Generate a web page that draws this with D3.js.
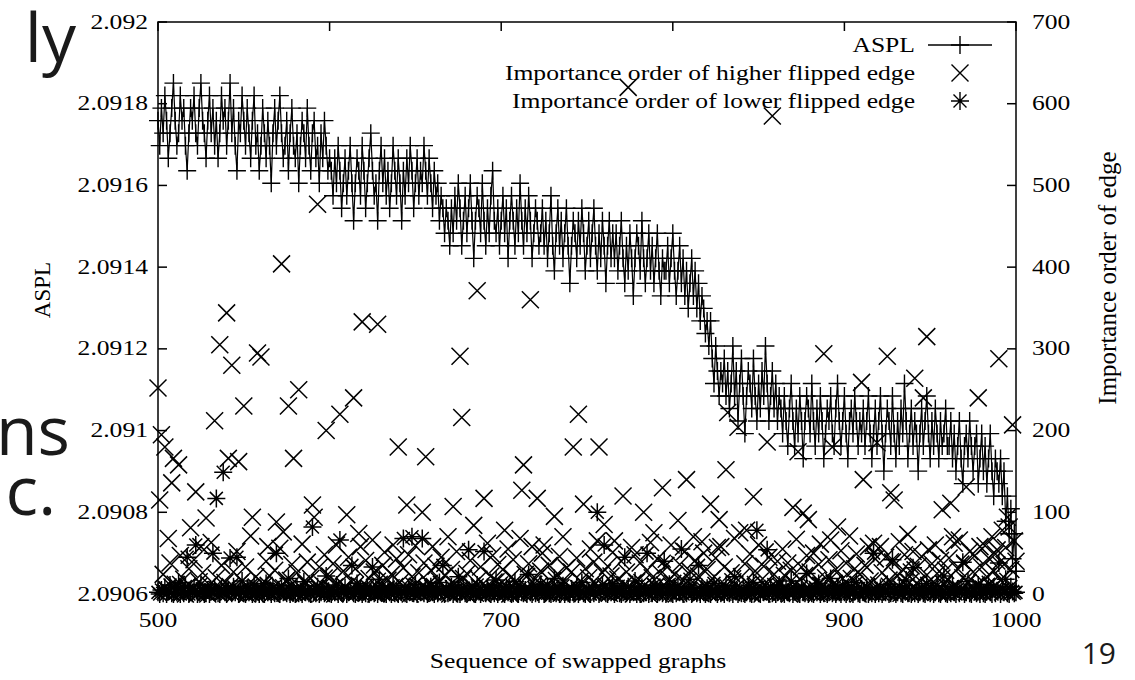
<!DOCTYPE html>
<html>
<head>
<meta charset="utf-8">
<script src="https://cdn.jsdelivr.net/npm/d3@7"></script>
<style>
  html, body { margin: 0; background: #fff; }
  text { font-family: "Liberation Serif", "Times New Roman", serif; font-size: 20px; fill: #000; }
  .slide { font-family: "Open Sans", "Noto Sans", sans-serif; fill: #1a1a1a; }
</style>
</head>
<body>
<div id="chart"></div>
<script>
// sequence numbers start here, one sample per swapped graph
const seqStart = 500;

// ASPL of a 256-node graph is (distance sum) / 32640; values below are
// distance sum minus 68237, read level by level off the plot
const asplSteps = [
  38,36,39,37,40,38,35,37,39,41, 38,36,37,40,38,39,36,34,37,39,
  38,40,37,36,39,41,38,37,35,38, 40,37,39,36,38,35,37,40,38,39,
  36,38,41,37,39,36,34,38,37,40, 38,36,39,
  37,35,38,40,36,37,34,36,39,37, 35,38,36,33,37,39,36,38,40,37,
  35,36,38,34,37,39,36,35,37,33, 36,38,37,35,39,36,34,37,38,35,
  36,33,37,35,38,36,34,35,
  34,32,35,33,36,34,31,33,35,32, 34,36,33,30,33,35,34,32,36,34,
  31,33,35,37,34,32,33,30,34,36, 33,35,32,34,31,33,36,34,32,35,
  33,30,34,32,35,33,36,34,31,33, 35,32,34,
  33,36,34,32,35,33,31,34,32,33, 30,32,31,29,31,30,28,
  31,29,32,30,33,31,28,30,32,29, 31,33,30,27,30,32,31,29,33,30,
  28,31,29,32,34,30,29,31,28,30, 32,29,31,27,30,32,30,28,31,29,
  33,30,28,31,29,32,30,27,29,31, 30,28,
  29,31,28,30,27,29,32,28,26,29, 31,28,30,27,29,31,28,25,28,30,
  29,27,30,28,31,29,26,28,30,27, 29,31,28,26,29,27,30,28,25,28,
  30,27,29,
  27,29,26,28,30,27,25,28,26,29, 27,24,27,29,28,26,30,27,25,27,
  29,26,28,25,27,29,26,24,27,26,
  26,28,25,27,29,26,24,26,28,25, 27,24,26,23,25,27,24,26,23,25,
  22,24,23,21,22,
  20,22,19,17,20,18,16,18,
  17,19,16,18,15,17,20,16,18,14, 17,19,16,13,16,18,17,15,19,16,
  14,17,15,18,16,20,17,14,16,18, 15,17,14,16,
  15,13,16,14,12,15,17,14,12,15, 13,16,14,11,14,16,15,13,17,14,
  12,15,13,16,14,11,13,15,14,16, 13,12,15,17,14,12,14,16,13,11,
  14,15,13,16,14,12,14,
  13,15,12,14,16,13,11,13,15,12, 14,16,13,10,13,15,14,12,16,13,
  11,14,12,15,13,17,14,11,13,15, 12,14,13,10,13,15,12,14,16,13,
  11,14,12,15,13,11,14,12,13,15, 12,
  12,14,11,13,10,12,14,11,9,12, 13,11,14,12,10,12,13,9,11,13,
  10,12,9,11,13,10,8,11,10,
  9,11,8,10,6,8,5,7,3,5,2
];
const asplBase = 68237;
const asplPairs = 32640;

// importance order of the higher flipped edge, 20 samples per row (500, 520, ...)
const higherOrder = [
  252,115,195,24,180,5,68,38,136,166,12,3,158,47,2,18,0,9,31,81,
  7,42,125,1,15,58,26,4,93,0,11,63,3,212,20,6,305,35,2,14,
  344,166,9,280,27,1,52,162,4,16,230,33,0,8,71,94,2,21,295,6,
  290,13,3,40,58,22,0,7,29,88,5,56,404,76,1,17,230,10,36,166,
  4,26,250,8,61,0,14,39,2,19,109,94,7,477,33,1,11,48,200,3,
  22,6,37,0,60,12,220,4,28,9,97,45,1,15,240,31,3,74,58,333,
  8,41,2,19,5,66,27,0,330,12,3,35,51,6,17,1,24,60,9,43,
  180,14,2,32,7,109,48,0,21,10,59,4,26,1,100,38,168,6,13,29,
  58,9,34,1,16,45,3,23,7,70,0,30,107,12,52,4,291,216,19,2,
  25,5,41,10,84,1,371,18,33,0,117,8,62,3,22,47,6,15,36,11,
  3,30,78,9,55,0,21,42,6,14,1,68,127,158,24,8,37,360,58,12,
  19,117,4,28,50,60,2,11,35,7,0,95,23,9,46,1,70,15,32,5,
  8,27,180,3,44,220,16,0,110,31,6,20,55,2,39,13,65,180,4,26,
  85,10,34,1,22,51,65,7,18,3,40,120,12,27,620,5,57,0,48,15,
  2,38,14,100,6,29,0,63,20,75,9,43,1,25,130,11,35,4,18,60,
  13,24,0,90,36,8,17,52,140,3,28,10,70,41,5,22,1,64,50,9,
  30,6,110,19,2,44,57,91,58,11,33,152,222,4,26,15,68,8,204,75,
  21,3,37,78,12,49,1,119,28,7,60,16,0,34,10,186,45,5,585,24,
  9,40,14,2,55,23,6,38,0,29,106,12,67,174,18,33,99,3,47,91,
  27,8,50,15,1,36,61,11,294,20,4,42,66,180,13,30,82,6,53,19,
  2,38,12,71,19,5,31,49,0,24,259,140,35,9,58,16,3,62,43,185,
  11,58,26,3,45,291,17,124,39,115,7,22,64,1,30,48,10,73,14,27,
  52,264,13,34,2,46,240,21,315,54,8,37,15,60,25,4,41,103,12,29,
  18,44,111,70,62,9,31,66,5,20,38,131,14,52,3,27,47,11,240,58,
  33,6,59,21,44,12,70,28,49,54,288,17,78,36,57,94,82,30,207,65,
  40
];

// importance order of the lower flipped edge, same layout
const lowerOrder = [
  2,0,5,1,8,0,3,11,1,0,6,2,14,0,4,1,9,45,0,3,
  1,7,60,0,2,12,4,0,1,5,0,3,50,8,117,1,0,6,149,2,
  0,4,44,1,9,2,45,0,3,16,1,0,7,2,5,0,11,1,3,0,
  6,1,0,13,2,4,0,8,1,50,3,0,10,2,5,1,19,0,4,2,
  0,7,1,3,0,15,2,5,1,0,82,4,1,9,0,2,6,1,22,3,
  1,0,5,2,11,0,66,3,1,8,0,2,4,35,1,0,13,2,6,0,
  3,1,9,0,2,33,1,5,0,18,2,4,1,0,7,2,0,10,1,3,
  0,5,2,68,1,0,8,3,70,1,12,0,4,2,68,1,6,0,3,9,
  2,0,4,1,14,3,35,0,6,1,2,9,0,5,1,21,0,3,7,1,
  0,54,2,6,1,0,11,3,0,4,52,1,8,2,0,5,1,17,0,3,
  4,1,0,9,2,6,0,1,15,3,0,7,2,1,5,0,24,2,0,8,
  1,3,0,12,5,0,2,8,1,0,4,19,1,6,0,2,10,0,3,1,
  0,6,2,1,9,0,3,14,1,0,5,2,0,8,1,3,100,0,4,11,
  60,1,0,5,2,13,0,3,7,1,0,2,45,1,9,0,4,2,16,0,
  3,0,8,1,2,50,0,6,1,11,4,0,2,7,1,40,0,3,12,1,
  0,4,1,9,2,55,0,3,1,6,18,0,2,5,1,35,0,8,2,0,
  7,1,0,4,13,2,0,6,1,3,0,10,2,1,5,0,21,3,0,2,
  1,5,0,2,8,1,0,14,3,78,1,0,6,2,4,54,0,9,1,3,
  0,2,11,1,4,0,7,2,1,16,0,3,5,1,0,9,2,1,25,0,
  4,1,0,8,2,13,0,3,1,6,0,2,19,1,4,0,7,2,0,11,
  2,0,5,1,9,0,3,14,1,0,6,2,1,8,0,3,1,50,0,4,
  1,7,0,3,2,12,0,1,42,5,0,2,9,1,0,4,17,1,3,0,
  32,1,4,0,2,8,1,0,13,3,1,6,0,2,10,1,0,5,22,1,
  0,3,1,9,2,0,6,1,4,39,0,2,15,1,0,7,3,1,11,0,
  5,1,0,3,12,2,0,8,1,4,38,0,6,2,18,1,0,9,3,1,
  2
];

const xTicks = [500, 600, 700, 800, 900, 1000];
const asplTicks = [2.0906, 2.0908, 2.091, 2.0912, 2.0914, 2.0916, 2.0918, 2.092];
const orderTicks = [0, 100, 200, 300, 400, 500, 600, 700];
const legendLabels = ["ASPL", "Importance order of higher flipped edge", "Importance order of lower flipped edge"];

const W = 1135, H = 680;
const plot = { left: 158, right: 1016, top: 22, bottom: 594 };
const SX = 1.28;     // the source picture is stretched sideways
const TICK = 9;

const x = d3.scaleLinear().domain([500, 1000]).range([plot.left, plot.right]);
const yL = d3.scaleLinear().domain([2.0906, 2.092]).range([plot.bottom, plot.top]);
const yR = d3.scaleLinear().domain([0, 700]).range([plot.bottom, plot.top]);

const svg = d3.select("#chart").append("svg")
  .attr("width", W).attr("height", H)
  .style("display", "block");
svg.append("rect").attr("width", W).attr("height", H).attr("fill", "#fff");

function label(g, s, px, py, anchor, rot, sx = SX) {
  return g.append("text")
    .attr("transform", `translate(${px},${py}) scale(${sx},1)` + (rot ? ` rotate(${rot})` : ""))
    .attr("text-anchor", anchor)
    .attr("dominant-baseline", "central")
    .text(s);
}

// marker shapes (gnuplot point types 1, 2, 3)
const plusPath = "M-9,0H9M0,-9V9";
const crossPath = "M-8.5,-8.5L8.5,8.5M-8.5,8.5L8.5,-8.5";
const starPath = "M-9,0H9M0,-9V9M-6.5,-6.5L6.5,6.5M-6.5,6.5L6.5,-6.5";

const aspl = asplSteps.map((k, i) => ({ seq: seqStart + i, v: (asplBase + k) / asplPairs }));
const higher = higherOrder.map((v, i) => ({ seq: seqStart + i, v }));
const lower = lowerOrder.map((v, i) => ({ seq: seqStart + i, v }));

const marks = svg.append("g");

// ASPL line with points
marks.append("path")
  .datum(aspl)
  .attr("fill", "none")
  .attr("stroke", "#000")
  .attr("stroke-width", 1.2)
  .attr("d", d3.line().x(d => x(d.seq)).y(d => yL(d.v)));

marks.append("g").selectAll("path")
  .data(aspl).join("path")
  .attr("transform", d => `translate(${x(d.seq)},${yL(d.v)})`)
  .attr("d", plusPath)
  .attr("stroke", "#000").attr("stroke-width", 1.4).attr("fill", "none");

marks.append("g").selectAll("path")
  .data(higher).join("path")
  .attr("transform", d => `translate(${x(d.seq)},${yR(d.v)})`)
  .attr("d", crossPath)
  .attr("stroke", "#000").attr("stroke-width", 1.5).attr("fill", "none");

marks.append("g").selectAll("path")
  .data(lower).join("path")
  .attr("transform", d => `translate(${x(d.seq)},${yR(d.v)})`)
  .attr("d", starPath)
  .attr("stroke", "#000").attr("stroke-width", 1.5).attr("fill", "none");

// frame and inward ticks
const axes = svg.append("g").attr("stroke", "#000").attr("stroke-width", 1.5).attr("fill", "none");
axes.append("rect")
  .attr("x", plot.left).attr("y", plot.top)
  .attr("width", plot.right - plot.left).attr("height", plot.bottom - plot.top);

asplTicks.forEach(t => {
  axes.append("line").attr("x1", plot.left).attr("x2", plot.left + TICK).attr("y1", yL(t)).attr("y2", yL(t));
});
orderTicks.forEach(t => {
  axes.append("line").attr("x1", plot.right).attr("x2", plot.right - TICK).attr("y1", yR(t)).attr("y2", yR(t));
});
xTicks.forEach(t => {
  axes.append("line").attr("x1", x(t)).attr("x2", x(t)).attr("y1", plot.bottom).attr("y2", plot.bottom - TICK);
  axes.append("line").attr("x1", x(t)).attr("x2", x(t)).attr("y1", plot.top).attr("y2", plot.top + TICK);
});

// tick labels
const txt = svg.append("g");
asplTicks.forEach(t => label(txt, String(+t.toFixed(4)), plot.left - 10, yL(t), "end"));
orderTicks.forEach(t => label(txt, String(t), plot.right + 16, yR(t), "start"));
xTicks.forEach(t => label(txt, String(t), x(t), 620, "middle"));

// axis titles
label(txt, "ASPL", 42, 290, "middle", -90, 1).style("font-size", "23px");
label(txt, "Importance order of edge", 1107, 278, "middle", -90, 1).style("font-size", "25px");
label(txt, "Sequence of swapped graphs", 578, 661, "middle");

// legend
const legY = [45, 73, 101];
const legMark = [plusPath, crossPath, starPath];
legendLabels.forEach((s, i) => {
  label(txt, s, 915, legY[i], "end");
  if (i === 0) {
    txt.append("line").attr("x1", 928).attr("x2", 992).attr("y1", legY[i]).attr("y2", legY[i])
      .attr("stroke", "#000").attr("stroke-width", 1.4);
  }
  txt.append("path")
    .attr("transform", `translate(960,${legY[i]})`)
    .attr("d", legMark[i])
    .attr("stroke", "#000").attr("stroke-width", 1.4).attr("fill", "none");
});

// slide text around the pasted chart
const slide = svg.append("g");
slide.append("text").attr("class", "slide").attr("x", 76).attr("y", 62).attr("text-anchor", "end").style("font-size", "68px").text("ly");
slide.append("text").attr("class", "slide").attr("x", 70).attr("y", 455).attr("text-anchor", "end").style("font-size", "68px").text("ns");
slide.append("text").attr("class", "slide").attr("x", 56).attr("y", 515).attr("text-anchor", "end").style("font-size", "68px").text("c.");
slide.append("text").attr("class", "slide").attr("x", 1116).attr("y", 664).attr("text-anchor", "end").style("font-size", "30px").text("19");
</script>
</body>
</html>
